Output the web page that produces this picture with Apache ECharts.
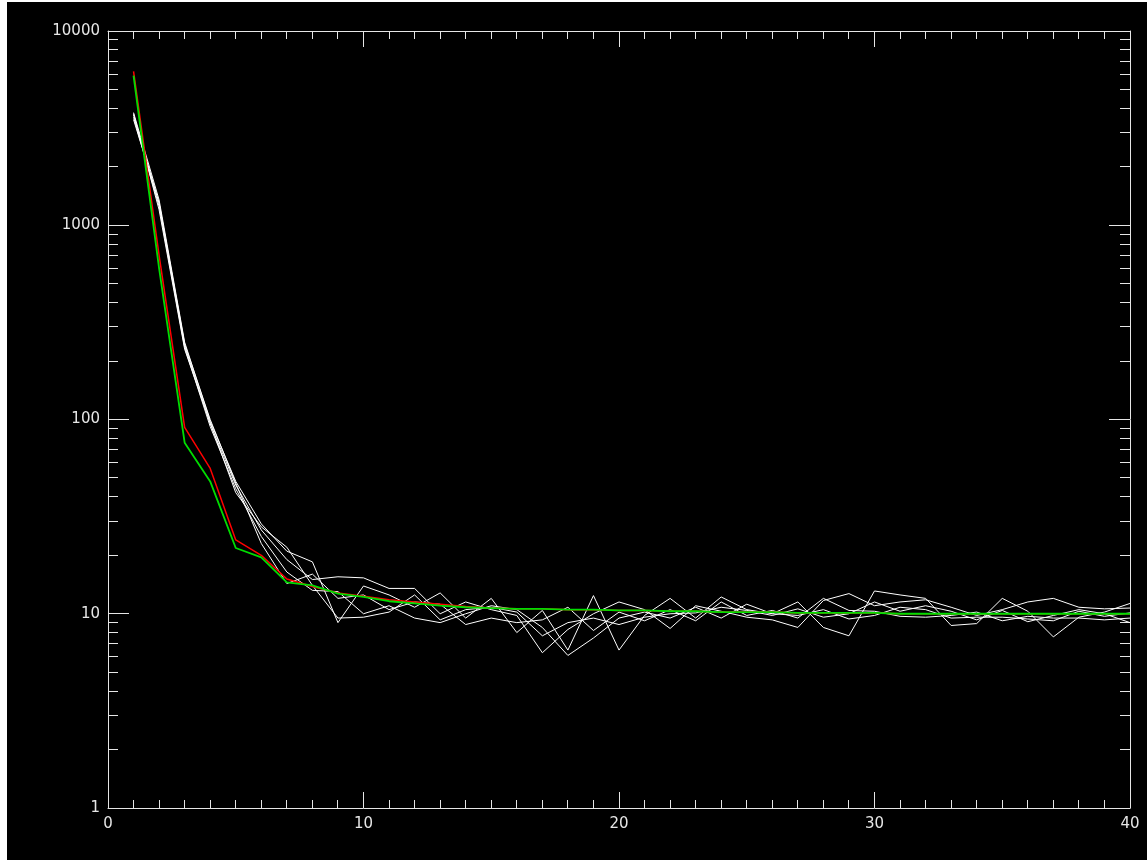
<!DOCTYPE html>
<html>
<head>
<meta charset="utf-8">
<script src="https://cdn.jsdelivr.net/npm/echarts@6/dist/echarts.min.js"></script>
<style>
  html, body { margin: 0; padding: 0; background: #ffffff; width: 1147px; height: 860px; overflow: hidden; }
  #chart { position: absolute; left: 7px; top: 2px; width: 1140px; height: 858px; background: #000000; }
</style>
</head>
<body>
<div id="chart"></div>
<script>
// ---- data ----
const xValues = [1,2,3,4,5,6,7,8,9,10,11,12,13,14,15,16,17,18,19,20,21,22,23,24,25,26,27,28,29,30,31,32,33,34,35,36,37,38,39,40];

const white1 = [3800,1350,250,98,48,29,21,18.5,9.0,13.9,12.5,10.8,12.8,9.5,12.0,8.0,10.4,6.5,12.4,6.5,9.8,12.0,9.5,12.2,10.5,10.0,11.5,8.5,7.7,13.1,12.5,12.0,8.7,8.9,12.0,10.3,7.6,9.6,10.2,11.3];
const white2 = [3700,1300,240,95,46,27,19,15.0,15.5,15.3,13.5,13.5,10.0,11.5,10.5,9.8,6.3,8.3,10.0,11.5,10.5,8.4,11.0,10.3,9.6,9.3,8.5,11.7,12.7,11.0,11.5,11.8,10.8,9.8,10.5,11.5,12.0,10.8,10.6,10.7];
const white3 = [3600,1250,235,92,44,25,16.4,13.2,13.0,10.0,11.0,9.5,9.0,10.0,11.0,10.5,8.5,6.1,7.5,9.5,10.2,9.5,10.8,9.5,11.2,10.0,9.8,10.5,9.4,9.8,10.8,10.5,9.5,9.6,9.6,9.4,9.2,10.3,9.7,10.1];
const white4 = [3500,1300,245,100,47,23,14.3,16.0,12.0,12.5,10.5,11.5,11.2,8.8,9.5,9.0,9.3,10.8,8.2,10.2,9.2,10.5,9.2,11.5,9.8,10.4,9.5,12.0,10.4,10.3,9.7,9.6,9.8,10.2,9.2,9.7,9.5,9.5,9.3,9.5];
const white5 = [3750,1200,230,96,42,28,22,14.0,9.5,9.6,10.2,12.5,9.3,10.5,10.8,10.2,7.7,9.0,9.5,8.8,9.6,10.0,10.1,10.8,10.4,9.8,10.6,9.6,10.0,11.5,10.3,11.0,10.3,9.3,10.4,9.1,9.8,10.5,10.0,9.0];
const redValues = [6200,700,91,56,24,20,15.1,13.8,12.8,12.3,11.8,11.5,11.2,10.9,10.7,10.6,10.6,10.5,10.5,10.4,10.4,10.3,10.3,10.2,10.2,10.2,10.1,10.1,10.1,10.1,10.0,10.0,10.0,10.0,10.0,10.0,10.0,10.0,10.0,10.0];
const greenValues = [5900,600,76,48,21.8,19.5,14.5,14.0,12.7,12.2,11.6,11.3,11.0,10.8,10.7,10.6,10.6,10.5,10.5,10.4,10.4,10.3,10.3,10.2,10.2,10.2,10.1,10.1,10.1,10.1,10.0,10.0,10.0,10.0,10.0,10.0,10.0,10.0,10.0,10.0];

const xTickLabels = ['0','10','20','30','40'];
const xMajorTicks = [0,10,20,30,40];
const xMinorTicks = [1,2,3,4,5,6,7,8,9,11,12,13,14,15,16,17,18,19,21,22,23,24,25,26,27,28,29,31,32,33,34,35,36,37,38,39];
const yTickLabels = ['1','10','100','1000','10000'];
const yMajorTicks = [1,10,100,1000,10000];
const yMinorTicks = [2,3,4,5,6,7,8,9,20,30,40,50,60,70,80,90,200,300,400,500,600,700,800,900,2000,3000,4000,5000,6000,7000,8000,9000];

// ---- build ----
const pairs = arr => xValues.map((x, i) => [x, arr[i]]);
const axisColor = '#e6e6e6';
const labelFont = { color: '#e6e6e6', fontFamily: 'DejaVu Sans', fontSize: 15 };

function lineSeries(name, arr, color, width) {
  return {
    name, type: 'line', data: pairs(arr), showSymbol: false, symbol: 'none',
    lineStyle: { color, width }, silent: true, animation: false,
    xAxisIndex: 0, yAxisIndex: 0
  };
}

// y ticks: drawn on left and right edges; x ticks: drawn on bottom and top edges
const yTickItems = []
  .concat(yMinorTicks.map(v => [0, v, 10]))
  .concat(yMajorTicks.map(v => [0, v, 21]));
const xTickItems = []
  .concat(xMinorTicks.map(v => [v, 1, 8]))
  .concat(xMajorTicks.map(v => [v, 1, 16]));

const crisp = p => Math.round(p - 0.5) + 0.5;
const st = { stroke: axisColor, lineWidth: 1 };

function yTickSeries() {
  return {
    type: 'custom', silent: true, clip: false, xAxisIndex: 0, yAxisIndex: 0,
    data: yTickItems,
    renderItem: function (params, api) {
      const v = api.value(1), len = api.value(2);
      const pl = api.coord([0, v]);
      const pr = api.coord([40, v]);
      const y = crisp(pl[1]);
      return { type: 'group', children: [
        { type: 'line', shape: { x1: pl[0], y1: y, x2: pl[0] + len, y2: y }, style: st },
        { type: 'line', shape: { x1: pr[0], y1: y, x2: pr[0] - len, y2: y }, style: st }
      ]};
    }
  };
}

function xTickSeries() {
  return {
    type: 'custom', silent: true, clip: false, xAxisIndex: 0, yAxisIndex: 0,
    data: xTickItems,
    renderItem: function (params, api) {
      const v = api.value(0), len = api.value(2);
      const pb = api.coord([v, 1]);
      const pt = api.coord([v, 10000]);
      const x = crisp(pb[0]);
      return { type: 'group', children: [
        { type: 'line', shape: { x1: x, y1: pb[1], x2: x, y2: pb[1] - len }, style: st },
        { type: 'line', shape: { x1: x, y1: pt[1], x2: x, y2: pt[1] + len }, style: st }
      ]};
    }
  };
}

const chart = echarts.init(document.getElementById('chart'), null, { renderer: 'canvas' });
const grid = { left: 101, top: 29, width: 1022, height: 777 };

const axisBase = {
  axisLine: { show: true, onZero: false, lineStyle: { color: axisColor, width: 1 } },
  axisTick: { show: false },
  minorTick: { show: false },
  splitLine: { show: false }
};

const option = {
  backgroundColor: '#000000',
  animation: false,
  grid: grid,
  xAxis: [
    Object.assign({
      type: 'value', min: 0, max: 40, interval: 10, position: 'bottom',
      axisLabel: Object.assign({ margin: 9, formatter: v => xTickLabels[Math.round(v / 10)] }, labelFont)
    }, axisBase),
    Object.assign({
      type: 'value', min: 0, max: 40, interval: 10, position: 'top',
      axisLabel: { show: false }
    }, axisBase)
  ],
  yAxis: [
    Object.assign({
      type: 'log', logBase: 10, min: 1, max: 10000, position: 'left',
      axisLabel: Object.assign({ margin: 8, formatter: v => yTickLabels[Math.round(Math.log10(v))] }, labelFont)
    }, axisBase),
    Object.assign({
      type: 'log', logBase: 10, min: 1, max: 10000, position: 'right',
      axisLabel: { show: false }
    }, axisBase)
  ],
  series: [
    yTickSeries(),
    xTickSeries(),
    lineSeries('run1', white1, '#ffffff', 1),
    lineSeries('run2', white2, '#ffffff', 1),
    lineSeries('run3', white3, '#ffffff', 1),
    lineSeries('run4', white4, '#ffffff', 1),
    lineSeries('run5', white5, '#ffffff', 1),
    lineSeries('red', redValues, '#ff0000', 1.5),
    lineSeries('green', greenValues, '#00dd00', 1.8)
  ]
};
chart.setOption(option);
</script>
</body>
</html>
